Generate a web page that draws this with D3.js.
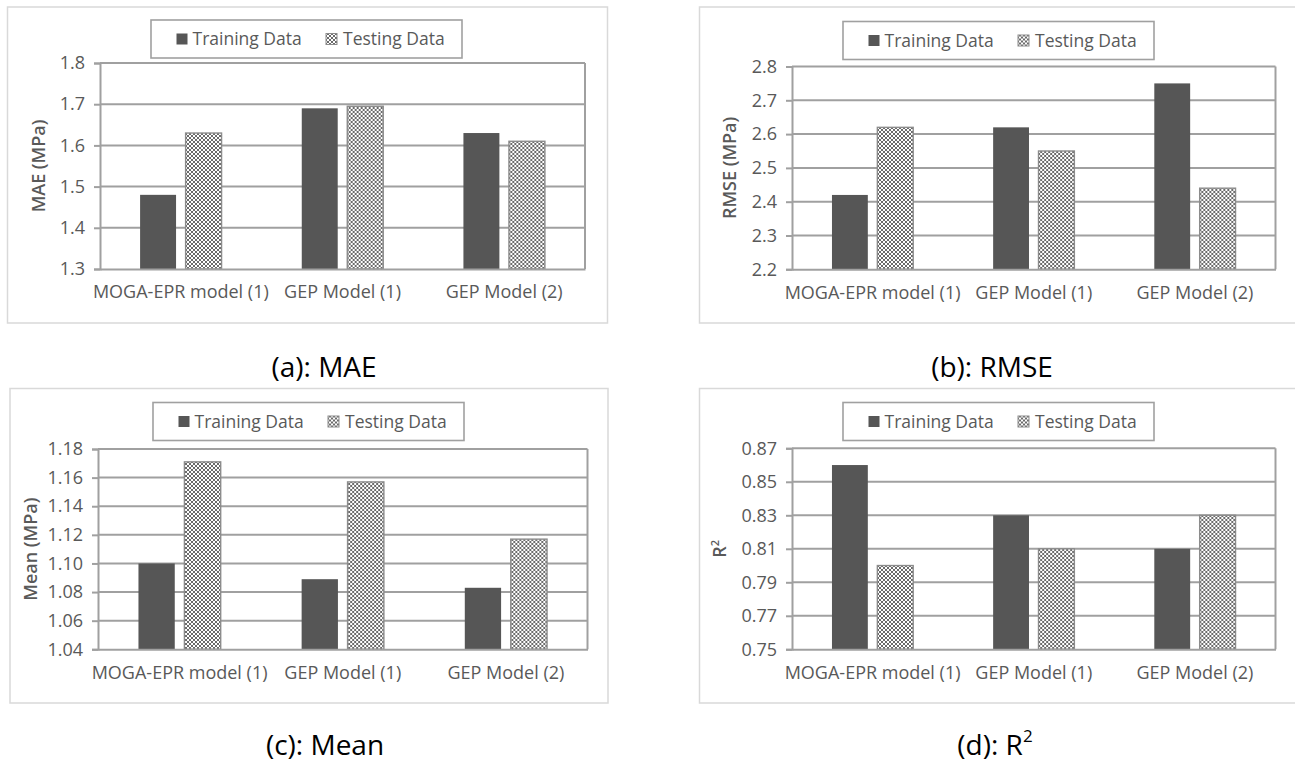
<!DOCTYPE html>
<meta charset="utf-8">
<style>
body { margin: 0; background: #fff; }
svg { font-family: "Open Sans", sans-serif; }
.tick text, .cat, .legText { fill: #595959; }
.yTitle { fill: #595959; font-weight: 600; }
.caption { fill: #000; }
</style>
<svg width="1295" height="768"></svg>
<script src="https://d3js.org/d3.v7.min.js"></script>
<script>
// data
var categories = ["MOGA-EPR model (1)", "GEP Model (1)", "GEP Model (2)"];
var seriesNames = ["Training Data", "Testing Data"];

var maeTrain = [1.48, 1.69, 1.63];
var maeTest = [1.63, 1.695, 1.61];
var maeTicks = [1.3, 1.4, 1.5, 1.6, 1.7, 1.8];

var rmseTrain = [2.42, 2.62, 2.75];
var rmseTest = [2.62, 2.55, 2.44];
var rmseTicks = [2.2, 2.3, 2.4, 2.5, 2.6, 2.7, 2.8];

var meanTrain = [1.100, 1.089, 1.083];
var meanTest = [1.171, 1.157, 1.117];
var meanTicks = [1.04, 1.06, 1.08, 1.10, 1.12, 1.14, 1.16, 1.18];

var r2Train = [0.86, 0.83, 0.81];
var r2Test = [0.80, 0.81, 0.83];
var r2Ticks = [0.75, 0.77, 0.79, 0.81, 0.83, 0.85, 0.87];

var svg = d3.select("svg");
var gridColor = "#a0a0a0";
var darkFill = "#565656";

// checker / diamond texture used for testing bars
var defs = svg.append("defs");
var pat = defs.append("pattern")
    .attr("id", "diamonds")
    .attr("patternUnits", "userSpaceOnUse")
    .attr("width", 4)
    .attr("height", 4);
pat.append("rect").attr("width", 4).attr("height", 4).attr("fill", "#fff");
pat.append("path")
    .attr("d", "M0,0L4,4M4,0L0,4")
    .attr("stroke", "#5a5a5a")
    .attr("stroke-width", 0.9);

var panels = [
  {train: maeTrain, test: maeTest, ticks: maeTicks, fmt: ".1f", title: "MAE (MPa)", caption: "(a): MAE",
   frame: [7.5, 7, 600, 316], plot: [100, 63, 585, 269], legend: [151, 20], titleX: 39, capX: 324, capY: 377},
  {train: rmseTrain, test: rmseTest, ticks: rmseTicks, fmt: ".1f", title: "RMSE (MPa)", caption: "(b): RMSE",
   frame: [699.5, 7, 602, 316], plot: [792, 66.5, 1275.5, 269.3], legend: [843, 21.5], titleX: 730, capX: 992, capY: 377},
  {train: meanTrain, test: meanTest, ticks: meanTicks, fmt: ".2f", title: "Mean (MPa)", caption: "(c): Mean",
   frame: [10, 388.5, 598, 314.5], plot: [98, 449, 587.5, 649.3], legend: [153, 402.5], titleX: 31, capX: 325, capY: 755},
  {train: r2Train, test: r2Test, ticks: r2Ticks, fmt: ".2f", title: "R2", caption: "(d): R2",
   frame: [699.5, 388.5, 602, 314.5], plot: [792, 448.3, 1275.5, 649.3], legend: [843, 402.5], titleX: 720, capX: 995, capY: 755}
];

panels.forEach(function(p) {
  var g = svg.append("g");
  var left = p.plot[0], top = p.plot[1], right = p.plot[2], bottom = p.plot[3];

  // outer frame
  g.append("rect")
    .attr("x", p.frame[0]).attr("y", p.frame[1])
    .attr("width", p.frame[2]).attr("height", p.frame[3])
    .attr("fill", "none").attr("stroke", "#d9d9d9").attr("stroke-width", 1.5);

  var x0 = d3.scaleBand().domain(categories).range([left, right]);
  var bw = x0.bandwidth();
  var x1 = d3.scaleBand().domain(seriesNames).range([bw * 0.248, bw * 0.752]).paddingInner(0.21);
  var y = d3.scaleLinear().domain([p.ticks[0], p.ticks[p.ticks.length - 1]]).range([bottom, top]);

  // gridlines
  g.append("g").selectAll("line")
    .data(p.ticks.slice(1))
    .enter().append("line")
      .attr("x1", left).attr("x2", right)
      .attr("y1", function(d) { return y(d); })
      .attr("y2", function(d) { return y(d); })
      .attr("stroke", gridColor).attr("stroke-width", 2);
  g.append("line")
    .attr("x1", right).attr("x2", right).attr("y1", top).attr("y2", bottom)
    .attr("stroke", gridColor).attr("stroke-width", 2);

  // bars
  var rows = categories.map(function(c, i) {
    return {cat: c, vals: [{key: seriesNames[0], value: p.train[i]}, {key: seriesNames[1], value: p.test[i]}]};
  });
  g.append("g").selectAll("g")
    .data(rows)
    .enter().append("g")
      .attr("transform", function(d) { return "translate(" + x0(d.cat) + ",0)"; })
    .selectAll("rect")
    .data(function(d) { return d.vals; })
    .enter().append("rect")
      .attr("x", function(d) { return x1(d.key); })
      .attr("y", function(d) { return y(d.value); })
      .attr("width", x1.bandwidth())
      .attr("height", function(d) { return bottom - y(d.value); })
      .attr("fill", function(d, i) { return i === 0 ? darkFill : "url(#diamonds)"; })
      .attr("stroke", function(d, i) { return i === 0 ? "none" : "#8c8c8c"; })
      .attr("stroke-width", 1.4);

  // y axis
  var yAxis = g.append("g")
    .attr("transform", "translate(" + left + ",0)")
    .call(d3.axisLeft(y).tickValues(p.ticks).tickFormat(d3.format(p.fmt)).tickSize(6).tickPadding(9));
  yAxis.select(".domain").attr("stroke", gridColor).attr("stroke-width", 2);
  yAxis.selectAll(".tick line").attr("stroke", gridColor).attr("stroke-width", 2);
  yAxis.selectAll(".tick text").attr("font-size", 18).attr("font-family", "Open Sans");

  // x axis
  var xAxis = g.append("g")
    .attr("transform", "translate(0," + bottom + ")")
    .call(d3.axisBottom(x0).tickSize(0).tickPadding(14));
  xAxis.select(".domain").attr("stroke", gridColor).attr("stroke-width", 2);
  xAxis.selectAll(".tick text").attr("class", "cat").attr("font-size", 18)
    .attr("font-family", "Open Sans").attr("dy", "0.85em");

  // y title
  var yt = g.append("text")
    .attr("class", "yTitle")
    .attr("transform", "translate(" + p.titleX + "," + ((top + bottom) / 2) + ") rotate(-90)")
    .attr("text-anchor", "middle")
    .attr("dy", "0.35em")
    .attr("font-size", 18);
  if (p.title === "R2") {
    yt.append("tspan").text("R");
    yt.append("tspan").attr("font-size", 11).attr("dy", "-0.7em").text("2");
  } else {
    yt.text(p.title);
  }

  // legend
  var lg = g.append("g").attr("transform", "translate(" + p.legend[0] + "," + p.legend[1] + ")");
  lg.append("rect").attr("width", 311).attr("height", 38)
    .attr("fill", "#fff").attr("stroke", gridColor).attr("stroke-width", 1.6);
  var items = lg.selectAll("g.item")
    .data(seriesNames)
    .enter().append("g")
      .attr("class", "item")
      .attr("transform", function(d, i) { return "translate(" + (i === 0 ? 25.5 : 175) + ",0)"; });
  items.append("rect")
    .attr("y", 13.5).attr("width", 11).attr("height", 11)
    .attr("fill", function(d, i) { return i === 0 ? darkFill : "url(#diamonds)"; })
    .attr("stroke", function(d, i) { return i === 0 ? "none" : "#8c8c8c"; });
  items.append("text")
    .attr("class", "legText")
    .attr("x", function(d, i) { return i === 0 ? 16 : 17; })
    .attr("y", 19)
    .attr("dy", "0.35em")
    .attr("font-size", 17.5)
    .text(function(d) { return d; });

  // caption below panel
  var cap = svg.append("text")
    .attr("class", "caption")
    .attr("x", p.capX).attr("y", p.capY)
    .attr("text-anchor", "middle")
    .attr("font-size", 28);
  if (p.caption === "(d): R2") {
    cap.append("tspan").text("(d): R");
    cap.append("tspan").attr("font-size", 17).attr("dy", "-0.75em").text("2");
  } else {
    cap.text(p.caption);
  }
});
</script>
